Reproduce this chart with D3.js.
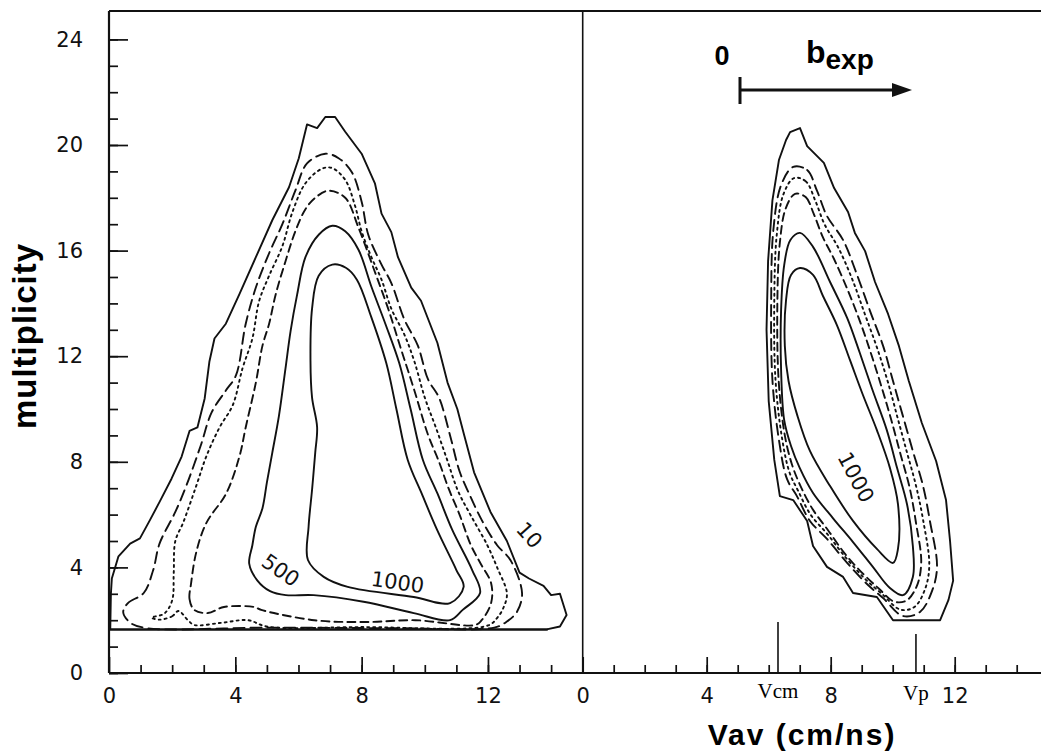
<!DOCTYPE html>
<html>
<head>
<meta charset="utf-8">
<script src="https://cdnjs.cloudflare.com/ajax/libs/d3/7.8.5/d3.min.js"></script>
<style>
  body { margin: 0; background: #fff; }
  .tick text { font-family: "DejaVu Sans", "Liberation Sans", sans-serif; font-size: 21px; fill: #111; }
  .tick line { stroke: #111; stroke-width: 1.7; }
</style>
</head>
<body>
<svg id="chart" width="1041" height="753"></svg>
<script>
// ---- data (Vav in cm/ns, multiplicity) ----
var yTicks = [0, 4, 8, 12, 16, 20, 24];
var xLeftTicks = [0, 4, 8, 12];
var xRightTicks = [4, 8, 12];
var vCm = 6.3, vP = 10.75;
var cutLevel = 1.65;

// left panel, contours from outside to inside
var leftLevel10 = [[0.04,1.65],[0.06,3.0],[0.09,3.58],[0.3,4.42],[0.67,4.9],[0.98,5.1],[1.3,5.8],[1.61,6.5],[1.98,7.36],[2.3,8.2],[2.55,9.17],[2.8,9.3],[3.03,10.4],[3.18,11.8],[3.34,12.67],[3.7,13.23],[4.13,14.35],[4.65,15.75],[5.17,17.15],[5.7,18.4],[6.01,19.5],[6.27,20.78],[6.59,20.64],[6.85,21.06],[7.16,21.06],[7.48,20.5],[8.0,19.67],[8.42,18.55],[8.63,17.4],[8.94,16.7],[9.15,15.75],[9.57,14.6],[9.88,14.1],[10.4,12.5],[10.72,11.0],[11.03,10.0],[11.25,9.0],[11.56,7.6],[12.08,6.1],[12.6,5.0],[13.0,3.8],[13.3,3.58],[13.76,3.3],[14.0,2.95],[14.28,3.0],[14.49,2.2],[14.28,1.76],[13.86,1.65]];
var leftDash1 = [[0.45,2.3],[0.6,2.65],[1.1,3.03],[1.4,3.9],[1.6,4.9],[2.1,6.1],[2.45,7.1],[2.9,8.6],[3.25,9.87],[3.7,10.7],[4.02,11.27],[4.33,13.23],[4.65,14.6],[5.07,15.9],[5.49,17.0],[5.9,18.27],[6.27,19.3],[6.85,19.67],[7.27,19.5],[7.69,18.97],[8.0,17.85],[8.21,16.6],[8.63,15.47],[8.94,14.77],[9.36,13.37],[9.78,12.4],[10.1,11.13],[10.45,10.43],[10.8,9.0],[11.1,7.64],[11.4,6.8],[11.8,5.8],[12.29,4.84],[12.71,4.28],[13.08,3.02],[12.92,2.32],[12.6,1.95],[12.2,1.72],[9.0,1.7],[5.0,1.72],[1.2,1.7],[0.68,1.9]];
var leftDot = [[2.2,2.35],[2.0,2.15],[1.6,2.02],[1.35,2.1],[1.75,2.25],[2.0,2.75],[2.05,3.8],[2.1,5.0],[2.35,5.7],[2.76,7.08],[3.08,8.2],[3.5,9.3],[3.92,10.15],[4.23,11.55],[4.54,12.67],[4.75,14.07],[5.07,15.05],[5.49,16.17],[5.8,17.43],[6.22,18.55],[6.74,19.1],[7.06,19.13],[7.48,18.68],[7.79,17.7],[8.0,16.73],[8.31,15.75],[8.63,14.9],[8.94,13.8],[9.36,12.8],[9.67,11.8],[10.0,10.43],[10.35,9.3],[10.7,8.1],[11.05,6.9],[11.46,5.96],[11.98,4.84],[12.29,4.0],[12.6,3.02],[12.5,2.5],[12.3,2.1],[12.0,1.8],[8.0,1.74],[5.0,1.76],[4.4,2.0],[3.55,1.9],[2.7,1.82],[2.5,2.0]];
var leftDash2 = [[2.7,2.39],[2.55,2.8],[2.6,3.4],[2.76,4.56],[3.08,5.68],[3.71,6.8],[4.13,8.2],[4.33,9.31],[4.65,11.0],[4.86,12.4],[5.07,13.23],[5.28,14.35],[5.59,15.6],[5.9,16.73],[6.22,17.57],[6.53,18.0],[6.95,18.27],[7.48,18.0],[7.9,16.87],[8.42,15.19],[8.84,13.8],[9.25,12.26],[9.67,10.7],[10.1,9.03],[10.45,8.0],[10.75,7.0],[11.1,6.0],[11.46,4.84],[11.77,4.14],[12.1,3.4],[12.1,2.65],[11.8,2.0],[11.6,1.82],[9.7,2.0],[8.1,1.93],[6.5,2.0],[4.82,2.39],[4.6,2.5],[3.64,2.5],[3.13,2.27]];
var left500 = [[7.07,16.94],[6.64,16.6],[6.22,15.75],[5.96,14.35],[5.75,12.95],[5.59,11.55],[5.38,9.73],[5.17,8.34],[5.0,7.22],[4.86,6.24],[4.65,5.54],[4.54,4.84],[4.44,4.14],[4.7,3.5],[5.1,3.1],[5.6,2.95],[6.48,2.95],[8.06,2.7],[9.65,2.27],[10.8,2.0],[11.2,2.39],[11.75,3.03],[11.5,3.9],[10.87,5.42],[10.4,6.8],[9.94,8.07],[9.55,10.0],[9.19,11.74],[8.75,13.23],[8.31,14.63],[7.9,16.03],[7.48,16.73]];
var left1000 = [[7.07,15.47],[6.64,15.05],[6.43,13.8],[6.38,11.83],[6.43,10.43],[6.59,9.31],[6.53,8.34],[6.43,6.94],[6.32,5.54],[6.3,4.28],[6.8,3.64],[7.56,3.26],[9.65,2.88],[10.8,2.65],[11.23,3.26],[11.0,3.9],[10.39,5.42],[9.9,6.8],[9.46,8.07],[9.1,10.0],[8.78,11.74],[8.3,13.5],[7.85,14.9],[7.5,15.35]];

// right panel
var rightLevel10 = [[6.33,19.43],[6.56,20.19],[6.69,20.49],[7.01,20.64],[7.24,19.96],[7.78,19.32],[8.11,18.37],[8.56,17.46],[8.78,16.67],[9.11,15.98],[9.43,14.81],[9.85,13.6],[10.2,12.39],[10.52,11.06],[10.94,9.47],[11.4,8.03],[11.72,6.55],[11.85,5.0],[11.95,3.5],[11.8,2.77],[11.53,2.0],[10.01,2.0],[9.49,2.88],[8.72,3.03],[8.4,3.64],[7.88,4.02],[7.43,4.81],[7.24,5.76],[6.79,6.55],[6.36,6.7],[6.18,8.07],[6.0,10.3],[5.93,13.0],[5.98,15.6],[6.12,17.9]];
var rightDash1 = [[6.79,19.17],[7.24,19.05],[7.56,18.26],[7.88,17.31],[8.4,16.4],[8.85,15.08],[9.27,13.71],[9.69,12.39],[10.01,11.06],[10.33,9.73],[10.65,8.41],[10.98,7.08],[11.2,5.76],[11.43,4.02],[11.27,3.11],[10.88,2.31],[10.33,2.16],[9.69,2.84],[9.17,3.37],[8.53,4.17],[7.88,5.08],[7.33,5.76],[6.91,6.7],[6.59,7.35],[6.33,8.83],[6.12,11.1],[6.08,14.13],[6.15,16.78],[6.4,18.48]];
var rightDot = [[6.82,18.75],[7.2,18.62],[7.5,17.9],[7.8,17.0],[8.25,16.1],[8.7,14.9],[9.1,13.6],[9.5,12.3],[9.85,11.0],[10.15,9.7],[10.45,8.4],[10.75,7.1],[10.98,5.8],[11.18,4.1],[11.05,3.2],[10.7,2.5],[10.25,2.4],[9.65,3.0],[9.12,3.55],[8.5,4.35],[7.9,5.25],[7.35,6.0],[6.95,6.9],[6.67,7.6],[6.43,8.9],[6.22,11.1],[6.18,14.1],[6.26,16.6],[6.48,18.15]];
var rightDash2 = [[6.85,18.15],[7.2,18.02],[7.45,17.4],[7.75,16.5],[8.1,15.7],[8.55,14.5],[8.95,13.3],[9.3,12.1],[9.65,10.8],[9.95,9.6],[10.25,8.3],[10.55,7.0],[10.75,5.7],[10.92,4.2],[10.78,3.3],[10.45,2.75],[10.05,2.7],[9.55,3.2],[9.05,3.75],[8.47,4.5],[7.92,5.4],[7.42,6.2],[7.02,7.1],[6.75,7.9],[6.52,9.0],[6.32,11.1],[6.28,14.1],[6.36,16.3],[6.55,17.6]];
var right500 = [[7.01,16.67],[7.43,16.14],[7.98,14.81],[8.53,13.45],[8.94,12.12],[9.36,10.68],[9.81,9.2],[10.14,7.77],[10.46,6.4],[10.65,4.81],[10.65,3.64],[10.33,2.95],[9.91,3.22],[9.36,4.02],[8.72,4.96],[8.07,5.87],[7.43,6.82],[7.0,7.77],[6.72,8.6],[6.5,9.58],[6.4,11.48],[6.4,13.75],[6.5,15.45],[6.7,16.4]];
var right1000 = [[7.01,15.34],[6.72,15.08],[6.56,14.13],[6.52,12.39],[6.64,11.06],[6.93,9.73],[7.33,8.41],[7.98,7.08],[8.72,5.76],[9.49,4.7],[10.01,4.17],[10.17,4.7],[10.17,6.4],[9.91,7.77],[9.49,9.2],[9.04,10.53],[8.62,11.86],[8.2,13.18],[7.75,14.28],[7.43,15.08]];

// contour labels: [x, y, text, angle]
var leftLabels = [[13.32, 5.23, "10", 48], [5.44, 3.9, "500", 35], [9.14, 3.45, "1000", 8]];
var rightLabels = [[8.82, 7.42, "1000", 62]];

// ---- layout ----
var svg = d3.select("#chart");
var x0 = 109, xDiv = 582.7, xEnd = 1041, yBot = 673, yTop = 11;

var y = d3.scaleLinear().domain([0, 24]).range([yBot, 39.4]);
var xL = d3.scaleLinear().domain([0, 15]).range([x0, xDiv]);
var xR = d3.scaleLinear().domain([0, 15]).range([xDiv, xDiv + 15 * 31]);

var styles = [
    {dash: null, curve: d3.curveLinearClosed},
    {dash: "11,6", curve: d3.curveCatmullRomClosed},
    {dash: "2,4", curve: d3.curveCatmullRomClosed},
    {dash: "8,5", curve: d3.curveCatmullRomClosed},
    {dash: null, curve: d3.curveCatmullRomClosed},
    {dash: null, curve: d3.curveCatmullRomClosed}
];

function drawContours(sets, xs) {
    var g = svg.append("g");
    sets.forEach(function (pts, i) {
        var line = d3.line()
            .x(function (d) { return xs(d[0]); })
            .y(function (d) { return y(d[1]); })
            .curve(styles[i].curve);
        g.append("path")
            .attr("d", line(pts))
            .attr("fill", "none")
            .attr("stroke", "#111")
            .attr("stroke-width", 1.9)
            .attr("stroke-linejoin", "round")
            .attr("stroke-linecap", "round")
            .attr("stroke-dasharray", styles[i].dash);
    });
}

function drawLabels(labels, xs) {
    svg.append("g").selectAll("text")
        .data(labels)
        .enter().append("text")
        .attr("transform", function (d) {
            return "translate(" + xs(d[0]) + "," + y(d[1]) + ") rotate(" + d[3] + ")";
        })
        .attr("text-anchor", "middle")
        .attr("dy", "0.36em")
        .style("font-family", "DejaVu Sans, Liberation Sans, sans-serif")
        .style("font-size", "21px")
        .style("fill", "#111")
        .text(function (d) { return d[2]; });
}

drawContours([leftLevel10, leftDash1, leftDot, leftDash2, left500, left1000], xL);
drawContours([rightLevel10, rightDash1, rightDot, rightDash2, right500, right1000], xR);
drawLabels(leftLabels, xL);
drawLabels(rightLabels, xR);

// cut line along the bottom of the left panel
svg.append("line")
    .attr("x1", xL(0)).attr("x2", xL(13.9))
    .attr("y1", y(cutLevel)).attr("y2", y(cutLevel))
    .attr("stroke", "#111").attr("stroke-width", 2);

// ---- axes ----
svg.append("g")
    .attr("transform", "translate(" + x0 + ",0)")
    .call(d3.axisLeft(y).tickValues(d3.range(0, 25)).tickSize(-9).tickFormat(""))
    .call(function (g) { g.select(".domain").remove(); });
svg.append("g")
    .attr("transform", "translate(" + x0 + ",0)")
    .call(d3.axisLeft(y).tickValues(yTicks).tickSize(-19).tickPadding(26))
    .call(function (g) { g.select(".domain").remove(); });

svg.append("g")
    .attr("transform", "translate(0," + yBot + ")")
    .call(d3.axisBottom(xL).tickValues(d3.range(1, 15)).tickSize(-8).tickFormat(""))
    .call(function (g) { g.select(".domain").remove(); });
svg.append("g")
    .attr("transform", "translate(0," + yBot + ")")
    .call(d3.axisBottom(xL).tickValues(xLeftTicks).tickSize(-16).tickPadding(15))
    .call(function (g) { g.select(".domain").remove(); });

svg.append("g")
    .attr("transform", "translate(0," + yBot + ")")
    .call(d3.axisBottom(xR).tickValues(d3.range(1, 15)).tickSize(-8).tickFormat(""))
    .call(function (g) { g.select(".domain").remove(); });
svg.append("g")
    .attr("transform", "translate(0," + yBot + ")")
    .call(d3.axisBottom(xR).tickValues([0].concat(xRightTicks)).tickSize(-16).tickPadding(15))
    .call(function (g) { g.select(".domain").remove(); });

// Vcm and Vp markers
svg.append("line").attr("x1", xR(vCm)).attr("x2", xR(vCm))
    .attr("y1", yBot).attr("y2", yBot - 51).attr("stroke", "#111").attr("stroke-width", 1.6);
svg.append("line").attr("x1", xR(vP)).attr("x2", xR(vP))
    .attr("y1", yBot).attr("y2", yBot - 39).attr("stroke", "#111").attr("stroke-width", 1.6);
svg.append("text").attr("x", xR(vCm)).attr("y", 698).attr("text-anchor", "middle")
    .style("font-family", "Liberation Serif, Times New Roman, serif").style("font-size", "21px")
    .text("Vcm");
svg.append("text").attr("x", xR(vP)).attr("y", 700).attr("text-anchor", "middle")
    .style("font-family", "Liberation Serif, Times New Roman, serif").style("font-size", "21px")
    .text("Vp");

// frame
var frame = svg.append("g").attr("stroke", "#111").attr("stroke-width", 2.2).attr("fill", "none");
frame.append("line").attr("x1", x0).attr("x2", xEnd).attr("y1", yTop).attr("y2", yTop);
frame.append("line").attr("x1", x0).attr("x2", xEnd).attr("y1", yBot).attr("y2", yBot);
frame.append("line").attr("x1", x0).attr("x2", x0).attr("y1", yTop).attr("y2", yBot);
frame.append("line").attr("x1", xDiv).attr("x2", xDiv).attr("y1", yTop).attr("y2", yBot).attr("stroke-width", 1.6);

// axis titles
svg.append("text")
    .attr("transform", "translate(36,336) rotate(-90)")
    .attr("text-anchor", "middle")
    .style("font-family", "Liberation Sans, Arial, sans-serif")
    .style("font-size", "33px").style("font-weight", "bold").style("letter-spacing", "1px")
    .text("multiplicity");
svg.append("text")
    .attr("x", 802).attr("y", 745)
    .attr("text-anchor", "middle")
    .style("font-family", "Liberation Sans, Arial, sans-serif")
    .style("font-size", "30px").style("font-weight", "bold").style("letter-spacing", "2px")
    .text("Vav (cm/ns)");

// b_exp arrow
var arr = svg.append("g");
arr.append("line").attr("x1", 740).attr("x2", 896).attr("y1", 90).attr("y2", 90)
    .attr("stroke", "#111").attr("stroke-width", 3);
arr.append("line").attr("x1", 740).attr("x2", 740).attr("y1", 77).attr("y2", 104)
    .attr("stroke", "#111").attr("stroke-width", 3);
arr.append("path").attr("d", "M912,90 L892,83 L892,97 Z").attr("fill", "#111");
arr.append("text").attr("x", 722).attr("y", 65).attr("text-anchor", "middle")
    .style("font-family", "Liberation Sans, Arial, sans-serif")
    .style("font-size", "27px").style("font-weight", "bold").text("0");
var bt = arr.append("text").attr("x", 806).attr("y", 63)
    .style("font-family", "Liberation Sans, Arial, sans-serif").style("font-weight", "bold");
bt.append("tspan").style("font-size", "32px").text("b");
bt.append("tspan").attr("dy", 6).style("font-size", "28px").text("exp");
</script>
</body>
</html>
